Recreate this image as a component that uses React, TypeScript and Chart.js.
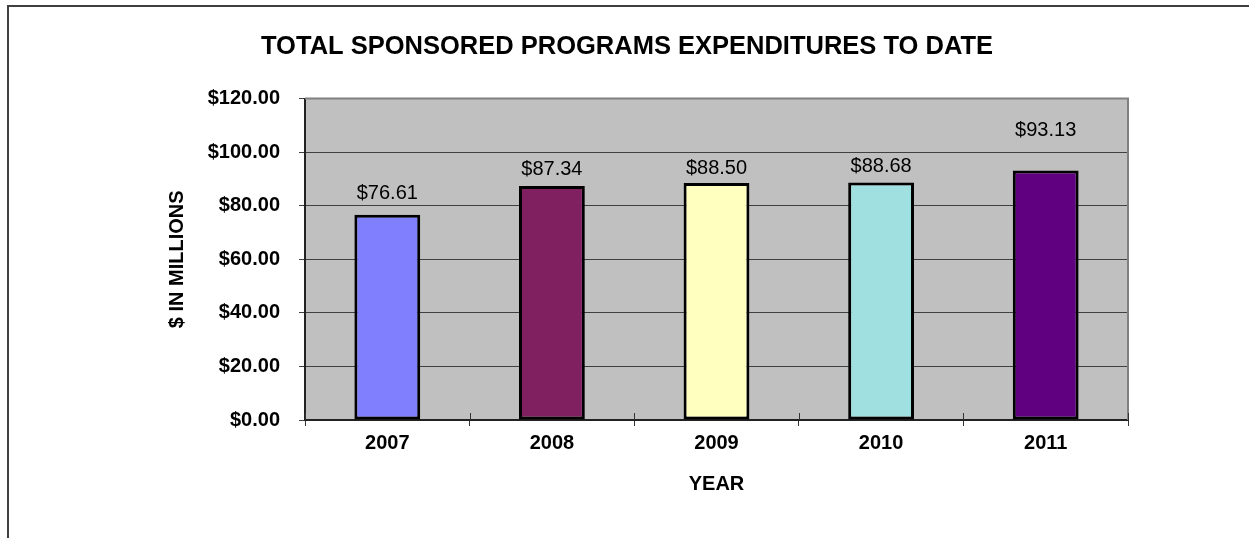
import React, { useEffect, useRef } from "react";
import { Chart, registerables } from "chart.js";

Chart.register(...registerables);

const years = ["2007", "2008", "2009", "2010", "2011"];
const expenditures = [76.61, 87.34, 88.5, 88.68, 93.13];
const barColors = ["#8080FF", "#802060", "#FFFFC0", "#A0E0E0", "#600080"];
const labelLift = [21, 17, 14, 16, 40];
const yTicks = [0, 20, 40, 60, 80, 100, 120];

const FONT = "'Liberation Sans', Arial, sans-serif";

const plotBackground = {
  id: "plotBackground",
  beforeDraw(chart: any) {
    const { ctx, chartArea } = chart;
    ctx.save();
    ctx.fillStyle = "#C0C0C0";
    ctx.fillRect(chartArea.left, chartArea.top, chartArea.right - chartArea.left, chartArea.bottom - chartArea.top);
    ctx.restore();
  },
};

const plotFrame = {
  id: "plotFrame",
  afterDatasetsDraw(chart: any) {
    const { ctx, chartArea } = chart;
    const xs = chart.scales.x;
    ctx.save();
    // top and right frame
    ctx.strokeStyle = "#808080";
    ctx.lineWidth = 2;
    ctx.beginPath();
    ctx.moveTo(chartArea.left, chartArea.top);
    ctx.lineTo(chartArea.right, chartArea.top);
    ctx.lineTo(chartArea.right, chartArea.bottom);
    ctx.stroke();
    // upward part of crossing category ticks
    ctx.strokeStyle = "#333333";
    ctx.lineWidth = 1;
    for (let i = 0; i <= years.length; i++) {
      const px = Math.round(xs.getPixelForValue(i - 0.5)) + 0.5;
      ctx.beginPath();
      ctx.moveTo(px, chartArea.bottom);
      ctx.lineTo(px, chartArea.bottom - 7);
      ctx.stroke();
    }
    // data labels
    const meta = chart.getDatasetMeta(0);
    ctx.fillStyle = "#000000";
    ctx.font = `20px ${FONT}`;
    ctx.textAlign = "center";
    ctx.textBaseline = "middle";
    meta.data.forEach((bar: any, i: number) => {
      ctx.fillText("$" + expenditures[i].toFixed(2), bar.x, bar.y - labelLift[i]);
    });
    ctx.restore();
  },
};

export default function App() {
  const canvasRef = useRef<HTMLCanvasElement | null>(null);

  useEffect(() => {
    if (!canvasRef.current) return;
    const chart = new Chart(canvasRef.current, {
      type: "bar",
      data: {
        labels: years,
        datasets: [
          {
            data: expenditures,
            backgroundColor: barColors,
            borderColor: "#000000",
            borderWidth: 3,
            borderSkipped: false,
            categoryPercentage: 1,
            barPercentage: 0.4,
          },
        ],
      },
      options: {
        animation: false,
        responsive: true,
        maintainAspectRatio: false,
        layout: { padding: { left: 126, right: 121, top: 0, bottom: 38 } },
        plugins: {
          legend: { display: false },
          tooltip: { enabled: false },
          title: {
            display: true,
            text: "TOTAL SPONSORED PROGRAMS EXPENDITURES TO DATE",
            color: "#000000",
            font: { family: FONT, size: 25.5, weight: "bold" },
            padding: { top: 31.7, bottom: 36.2 },
          },
        },
        scales: {
          x: {
            grid: {
              display: true,
              offset: true,
              drawOnChartArea: false,
              drawTicks: true,
              tickLength: 6,
              color: "#333333",
            },
            border: { display: true, color: "#222222", width: 2 },
            ticks: {
              color: "#000000",
              font: { family: FONT, size: 20, weight: "bold" },
              padding: 5,
              maxRotation: 0,
            },
            title: {
              display: true,
              text: "YEAR",
              color: "#000000",
              font: { family: FONT, size: 20, weight: "bold" },
              padding: { top: 4, bottom: 4 },
            },
            afterFit(scale: any) {
              scale.height = 80;
            },
          },
          y: {
            min: 0,
            max: 120,
            afterBuildTicks(scale: any) {
              scale.ticks = yTicks.map((v) => ({ value: v }));
            },
            grid: {
              color: "#404040",
              lineWidth: 1,
              drawTicks: true,
              tickLength: 6,
            },
            border: { display: true, color: "#222222", width: 2 },
            ticks: {
              color: "#000000",
              font: { family: FONT, size: 20, weight: "bold" },
              padding: 19,
              callback: (v: any) => "$" + Number(v).toFixed(2),
            },
            title: {
              display: true,
              text: "$ IN MILLIONS",
              color: "#000000",
              font: { family: FONT, size: 20, weight: "bold" },
              padding: { top: 39, bottom: 0 },
            },
            afterFit(scale: any) {
              scale.width = 179;
            },
          },
        },
      } as any,
      plugins: [plotBackground, plotFrame],
    });
    return () => chart.destroy();
  }, []);

  return (
    <div style={{ position: "absolute", left: 0, top: 0, width: 1249, height: 538, overflow: "hidden", background: "#FFFFFF" }}>
      <div
        style={{
          position: "absolute",
          left: 7,
          top: 5,
          width: 1260,
          height: 560,
          borderLeft: "2px solid #404040",
          borderTop: "2px solid #404040",
        }}
      />
      <div style={{ position: "absolute", left: 0, top: 0, width: 1249, height: 538 }}>
        <canvas ref={canvasRef} />
      </div>
    </div>
  );
}
